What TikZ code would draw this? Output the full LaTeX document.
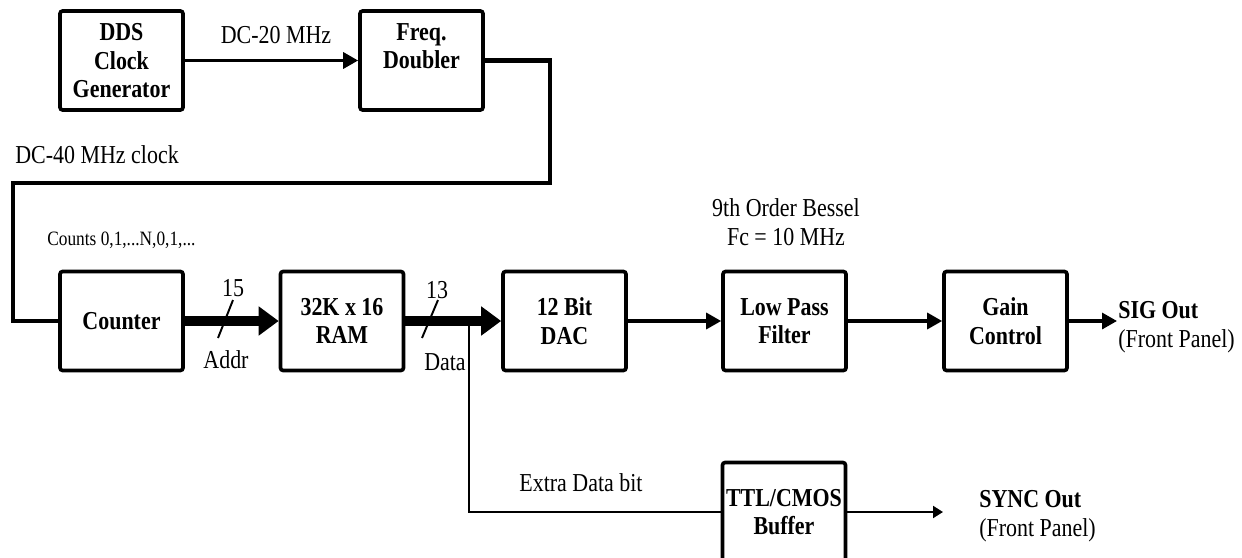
\documentclass[tikz,border=0pt]{standalone}
\usepackage{fontspec}
\setmainfont{Liberation Serif}[FakeStretch=0.85]
\usetikzlibrary{positioning,arrows.meta}

\begin{document}
\begin{tikzpicture}[x=0.02cm, y=-0.02cm,
  font=\fontsize{14.7}{16.4}\selectfont,
  box/.style={draw=black, line width=2.1pt, rounded corners=1.5pt, align=center,
    minimum width=2.46cm, minimum height=1.98cm, inner sep=2pt, text depth=0pt,
    font=\fontsize{14.7}{16.4}\selectfont\bfseries},
  lbl/.style={align=center, inner sep=0pt},
  sig/.style={draw, line width=1.9pt, -{Triangle[length=0.3cm,width=0.32cm]}},
  bus/.style={draw, line width=5.5pt, -{Triangle[length=0.4cm,width=0.56cm]}},
  clk/.style={draw, line width=2.8pt},
  wire/.style={draw, line width=1.2pt},
  tick/.style={draw, line width=1.1pt}]
\useasboundingbox (0,0) rectangle (1242,558);
% blocks
\node[box] (dds)     at (121.5,60.5) {DDS\\ Clock\\ Generator};
\node[box] (freq)    at (421.5,60.5) {Freq.\\ Doubler\\ \mbox{}};
\node[box] (counter) at (121.5,321) {Counter};
\node[box] (ram)     at (342,321)   {32K x 16\\ RAM};
\node[box] (dac)     at (564.5,321) {12 Bit\\ DAC};
\node[box] (lpf)     at (784.5,321) {Low Pass\\ Filter};
\node[box] (gain)    at (1005.5,321) {Gain\\ Control};
\node[box] (buf)     at (784,512)   {TTL/CMOS\\ Buffer};
% labels
\node[lbl] (f20) at (276,35) {DC-20 MHz};
\node[lbl, anchor=west] (f40) at (15,155) {DC-40 MHz clock};
\node[lbl, anchor=west, font=\fontsize{11.6}{13}\selectfont] (cnt) at (47,240) {Counts 0,1,...N,0,1,...};
\node[lbl] (bessel) at (786,222) {9th Order Bessel\\ Fc = 10 MHz};
\node[lbl] (n15)  at (233,288) {15};
\node[lbl] (addr) at (226,360) {Addr};
\node[lbl] (n13)  at (437,290) {13};
\node[lbl] (data) at (445,362) {Data};
\node[lbl] (extra) at (581,483) {Extra Data bit};
\node[lbl, anchor=west, align=left] (sigout)  at (1118,327.5) {\textbf{SIG Out}\\ (Front Panel)};
\node[lbl, anchor=west, align=left] (syncout) at (979,516) {\textbf{SYNC Out}\\ (Front Panel)};
% corners and free ends
\coordinate (loopR)   at (550,183);
\coordinate (loopL)   at (13,183);
\coordinate (tap)     at (469,321);
\coordinate (sigend)  at (1117,321);
\coordinate (syncend) at (943,512);
% connections
\draw[sig] (dds) -- (freq);
\draw[clk] (freq.east) -| (loopR) -- (loopL) |- (counter.west);
\draw[bus] (counter) -- (ram);
\draw[bus] (ram) -- (dac);
\foreach \a/\b in {dac/lpf,lpf/gain}
  \draw[sig] (\a) -- (\b);
\draw[sig] (gain) -- (sigend);
\draw[wire] (tap) |- (buf.west);
\draw[wire, -{Triangle[length=0.2cm,width=0.24cm]}] (buf) -- (syncend);
% bus width marks
\draw[tick] (218,338) -- (233,300);
\draw[tick] (422,338) -- (438,300);
\end{tikzpicture}
\end{document}
